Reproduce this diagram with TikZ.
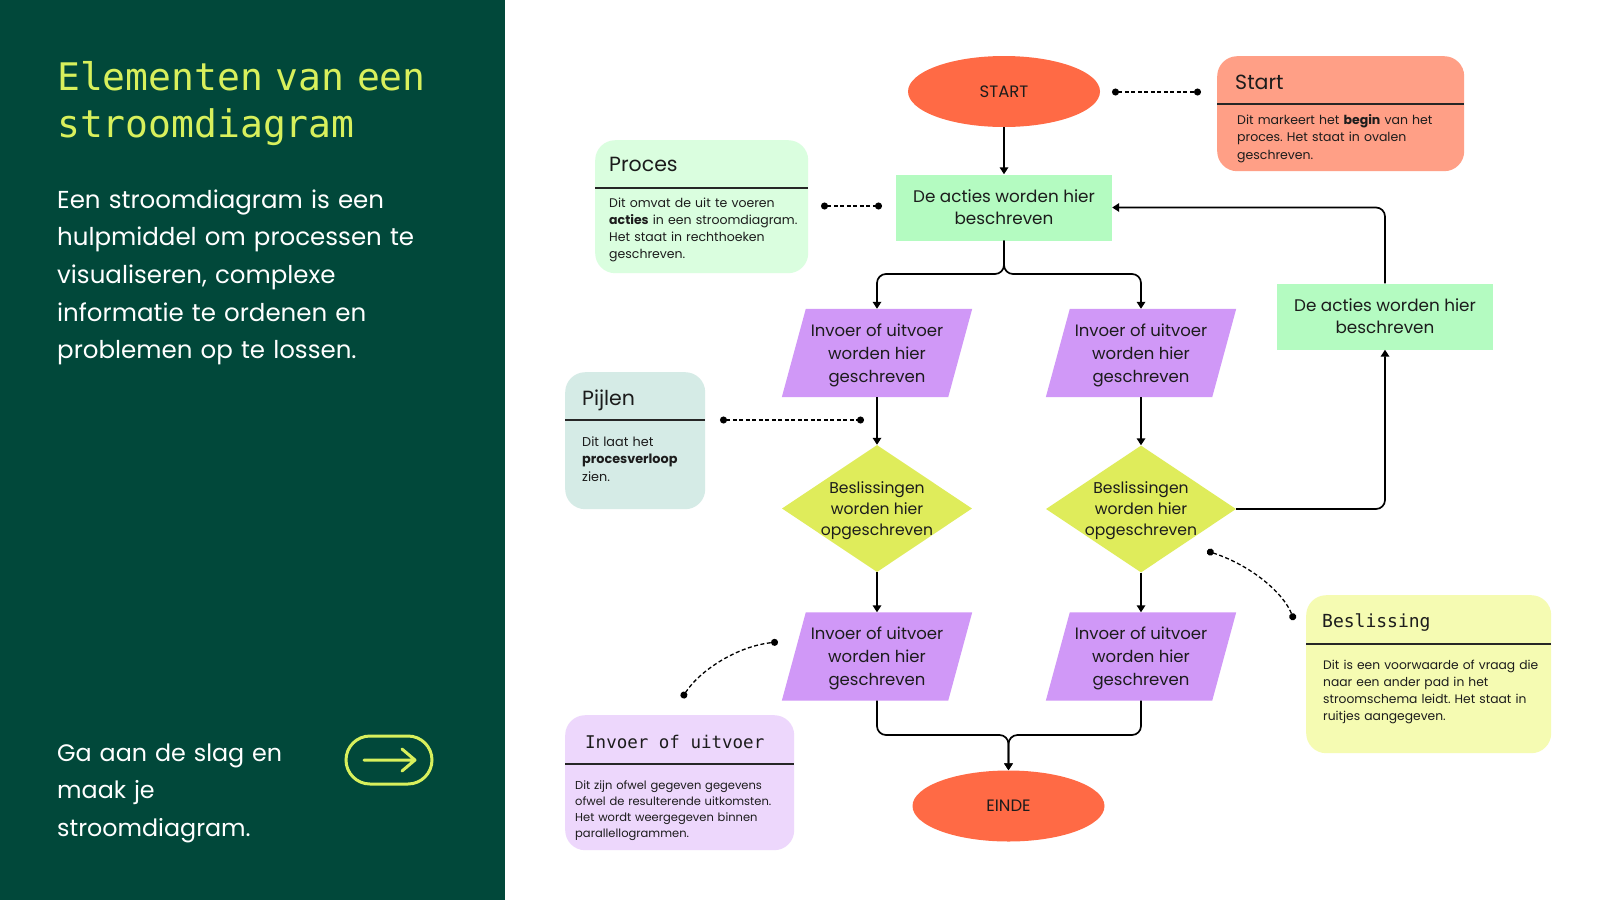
\documentclass[tikz,border=0pt]{standalone}
\usepackage{fontspec}
\setmainfont{Poppins}
\newfontfamily\titlemono{DejaVu Sans Mono}
\usetikzlibrary{shapes.geometric,arrows.meta}
\definecolor{panel}{HTML}{01483A}
\definecolor{lime}{HTML}{D8F05C}
\definecolor{startred}{HTML}{FF6A45}
\definecolor{startcall}{HTML}{FF9F86}
\definecolor{proc}{HTML}{B4FBC1}
\definecolor{proccall}{HTML}{DAFEDF}
\definecolor{iofill}{HTML}{D098F7}
\definecolor{iocall}{HTML}{EDD7FC}
\definecolor{decfill}{HTML}{DFEC5B}
\definecolor{deccall}{HTML}{F5FBB2}
\definecolor{pijcall}{HTML}{D5EBE6}
\definecolor{ink}{HTML}{1C1C1C}
\frenchspacing
\tikzset{
  flow/.style={line width=1.7pt, draw=black, -{Triangle[length=7pt,width=8.5pt]}, rounded corners=9pt},
  hint/.style={line width=1.3pt, draw=black, dash pattern=on 4pt off 2.5pt, {Circle[length=7pt]}-{Circle[length=7pt]}},
  callout/.style={fill=#1, rounded corners=20pt, inner sep=0pt, anchor=north west},
  divider/.style={line width=1.3pt, draw=black!85},
  ctitle/.style={anchor=base west, inner sep=0pt, text=ink, font=\fontsize{20.5}{24}\selectfont},
  mtitle/.style={anchor=base west, inner sep=0pt, text=ink, font=\titlemono\fontsize{17.5}{22}\selectfont},
  cbody/.style={anchor=base west, inner sep=0pt, align=left, text=ink, text width=#1},
  terminal/.style={ellipse, fill=startred, minimum width=192pt, minimum height=71pt, inner sep=0pt, text=ink, font=\fontsize{16.5}{18}\selectfont},
  procbox/.style={rectangle, fill=proc, minimum width=216pt, minimum height=66pt, inner sep=0pt, align=center, text=ink, font=\fontsize{16.8}{22}\selectfont},
  iobox/.style={rectangle, minimum width=166pt, minimum height=88pt, inner sep=0pt},
  iofillpath/.style={fill=iofill},
  decbox/.style={diamond, fill=decfill, minimum width=190pt, minimum height=127pt, inner sep=0pt},
  shapetext/.style={align=center, inner sep=0pt, text=ink, font=\fontsize{16.5}{23}\selectfont},
  dectext/.style={align=center, inner sep=0pt, text=ink, font=\fontsize{15.6}{21}\selectfont},
  paneltext/.style={anchor=base west, inner sep=0pt, align=left, text=white, text width=#1, font=\fontsize{24.5}{37.7}\selectfont},
}
\newcommand\iopara[1]{\fill[iofillpath] ([xshift=12pt]#1.north west) -- ([xshift=12pt]#1.north east) -- ([xshift=-12pt]#1.south east) -- ([xshift=-12pt]#1.south west) -- cycle;}
\begin{document}
\begin{tikzpicture}[x=1pt,y=-1pt]
\fill[white] (0,0) rectangle (1600,900);
\useasboundingbox (0,0) rectangle (1600,900);
% left panel
\fill[panel] (0,0) rectangle (505,900);
\node[anchor=base west, inner sep=0pt, align=left, text=lime, text width=445pt, font=\titlemono\fontsize{38}{47}\selectfont] (title) at (57,90) {Elementen van een\\stroomdiagram};
\node[paneltext=445pt] (intro) at (57,208) {Een stroomdiagram is een\\hulpmiddel om processen te\\visualiseren, complexe\\informatie te ordenen en\\problemen op te lossen.};
\node[paneltext=270pt, font=\fontsize{23.8}{37.7}\selectfont] (cta) at (57,761) {Ga aan de slag en\\maak je\\stroomdiagram.};
\node[draw=lime, line width=3pt, rounded corners=24pt, minimum width=86pt, minimum height=48pt, inner sep=0pt] (btn) at (389,760) {};
\coordinate (btnA) at (364,760);
\coordinate (btnB) at (415,760);
\draw[lime, line width=3pt, line cap=round, line join=round] (btnA) -- (btnB) ++(-13,-11) -- (btnB) -- ++(-13,11);

% callouts
\node[callout=startcall, minimum width=247pt, minimum height=115pt] (cStart) at (1217,56) {};
\draw[divider] (cStart.west |- 0,104) -- (cStart.east |- 0,104);
\node[ctitle] (tStart) at (1235,89) {Start};
\node[cbody=220pt, font=\fontsize{12.5}{17.5}\selectfont] (bStart) at (1237,124) {Dit markeert het \textbf{begin} van het\\proces. Het staat in ovalen\\geschreven.};

\node[callout=proccall, minimum width=213pt, minimum height=133pt] (cProc) at (595,140) {};
\draw[divider] (cProc.west |- 0,188) -- (cProc.east |- 0,188);
\node[ctitle] (tProc) at (609,171) {Proces};
\node[cbody=195pt, font=\fontsize{12.5}{17.3}\selectfont] (bProc) at (609,207) {Dit omvat de uit te voeren\\\textbf{acties} in een stroomdiagram.\\Het staat in rechthoeken\\geschreven.};

\node[callout=pijcall, minimum width=140pt, minimum height=137pt] (cPij) at (565,372) {};
\draw[divider] (cPij.west |- 0,420) -- (cPij.east |- 0,420);
\node[ctitle] (tPij) at (582,405) {Pijlen};
\node[cbody=120pt, font=\fontsize{12.8}{17.5}\selectfont] (bPij) at (582,446) {Dit laat het\\\textbf{procesverloop}\\zien.};

\node[callout=deccall, minimum width=245pt, minimum height=158pt] (cDec) at (1306,595) {};
\draw[divider] (cDec.west |- 0,644) -- (cDec.east |- 0,644);
\node[mtitle, font=\titlemono\fontsize{18}{22}\selectfont] (tDec) at (1322,627) {Beslissing};
\node[cbody=225pt, font=\fontsize{12.3}{17}\selectfont] (bDec) at (1323,669) {Dit is een voorwaarde of vraag die\\naar een ander pad in het\\stroomschema leidt. Het staat in\\ruitjes aangegeven.};

\node[callout=iocall, minimum width=229pt, minimum height=135pt] (cIO) at (565,715) {};
\draw[divider] (cIO.west |- 0,764) -- (cIO.east |- 0,764);
\node[mtitle] (tIO) at (585,748) {Invoer of uitvoer};
\node[cbody=215pt, font=\fontsize{11.5}{16}\selectfont] (bIO) at (575,789) {Dit zijn ofwel gegeven gegevens\\ofwel de resulterende uitkomsten.\\Het wordt weergegeven binnen\\parallellogrammen.};

% flowchart shapes
\node[terminal] (start) at (1004,91.5) {START};
\node[procbox] (p1) at (1004,207.5) {De acties worden hier\\beschreven};
\node[procbox] (p2) at (1385,316.5) {De acties worden hier\\beschreven};
\node[iobox] (io1) at (877,353) {};
\iopara{io1}
\node[shapetext] (io1t) at ([yshift=-2pt]io1.center) {Invoer of uitvoer\\worden hier\\geschreven};
\node[iobox] (io2) at (1141,353) {};
\iopara{io2}
\node[shapetext] (io2t) at ([yshift=-2pt]io2.center) {Invoer of uitvoer\\worden hier\\geschreven};
\node[decbox] (d1) at (877,508.5) {};
\node[dectext] (d1t) at ([yshift=-2pt]d1.center) {Beslissingen\\worden hier\\opgeschreven};
\node[decbox] (d2) at (1141,509) {};
\node[dectext] (d2t) at ([yshift=-2pt]d2.center) {Beslissingen\\worden hier\\opgeschreven};
\node[iobox] (io3) at (877,656.5) {};
\iopara{io3}
\node[shapetext] (io3t) at ([yshift=-2pt]io3.center) {Invoer of uitvoer\\worden hier\\geschreven};
\node[iobox] (io4) at (1141,656.5) {};
\iopara{io4}
\node[shapetext] (io4t) at ([yshift=-2pt]io4.center) {Invoer of uitvoer\\worden hier\\geschreven};
\node[terminal] (einde) at (1008.5,806) {EINDE};

% flow connectors
\draw[flow] (start) -- (p1);
\draw[flow] (p1.south) -- (p1.south |- 0,274) -| (io1.north);
\draw[flow] (p1.south) -- (p1.south |- 0,274) -| (io2.north);
\draw[flow] (io1) -- (d1);
\draw[flow] (io2) -- (d2);
\draw[flow] (d1) -- (io3);
\draw[flow] (d2) -- (io4);
\draw[flow] (io3.south) -- (io3.south |- 0,735) -| (einde.north);
\draw[flow] (io4.south) -- (io4.south |- 0,735) -| (einde.north);
\draw[flow] (d2.east) -| (p2.south);
\draw[flow] (p2.north) |- (p1.east);

% dashed hints
\coordinate (hS1) at (1112,92);
\coordinate (hS2) at (1201,92);
\draw[hint] (hS1) -- (hS2);
\coordinate (hP1) at (821,206);
\coordinate (hP2) at (882,206);
\draw[hint] (hP1) -- (hP2);
\coordinate (hA1) at (720,420);
\coordinate (hA2) at (864,420);
\draw[hint] (hA1) -- (hA2);
\coordinate (hB1) at (1207,551);
\coordinate (hB2) at (1294,620);
\draw[hint] (hB1) .. controls (1250,565) and (1283,592) .. (hB2);
\coordinate (hI1) at (682,698);
\coordinate (hI2) at (778,642);
\draw[hint] (hI1) .. controls (700,670) and (738,646) .. (hI2);
\end{tikzpicture}
\end{document}
